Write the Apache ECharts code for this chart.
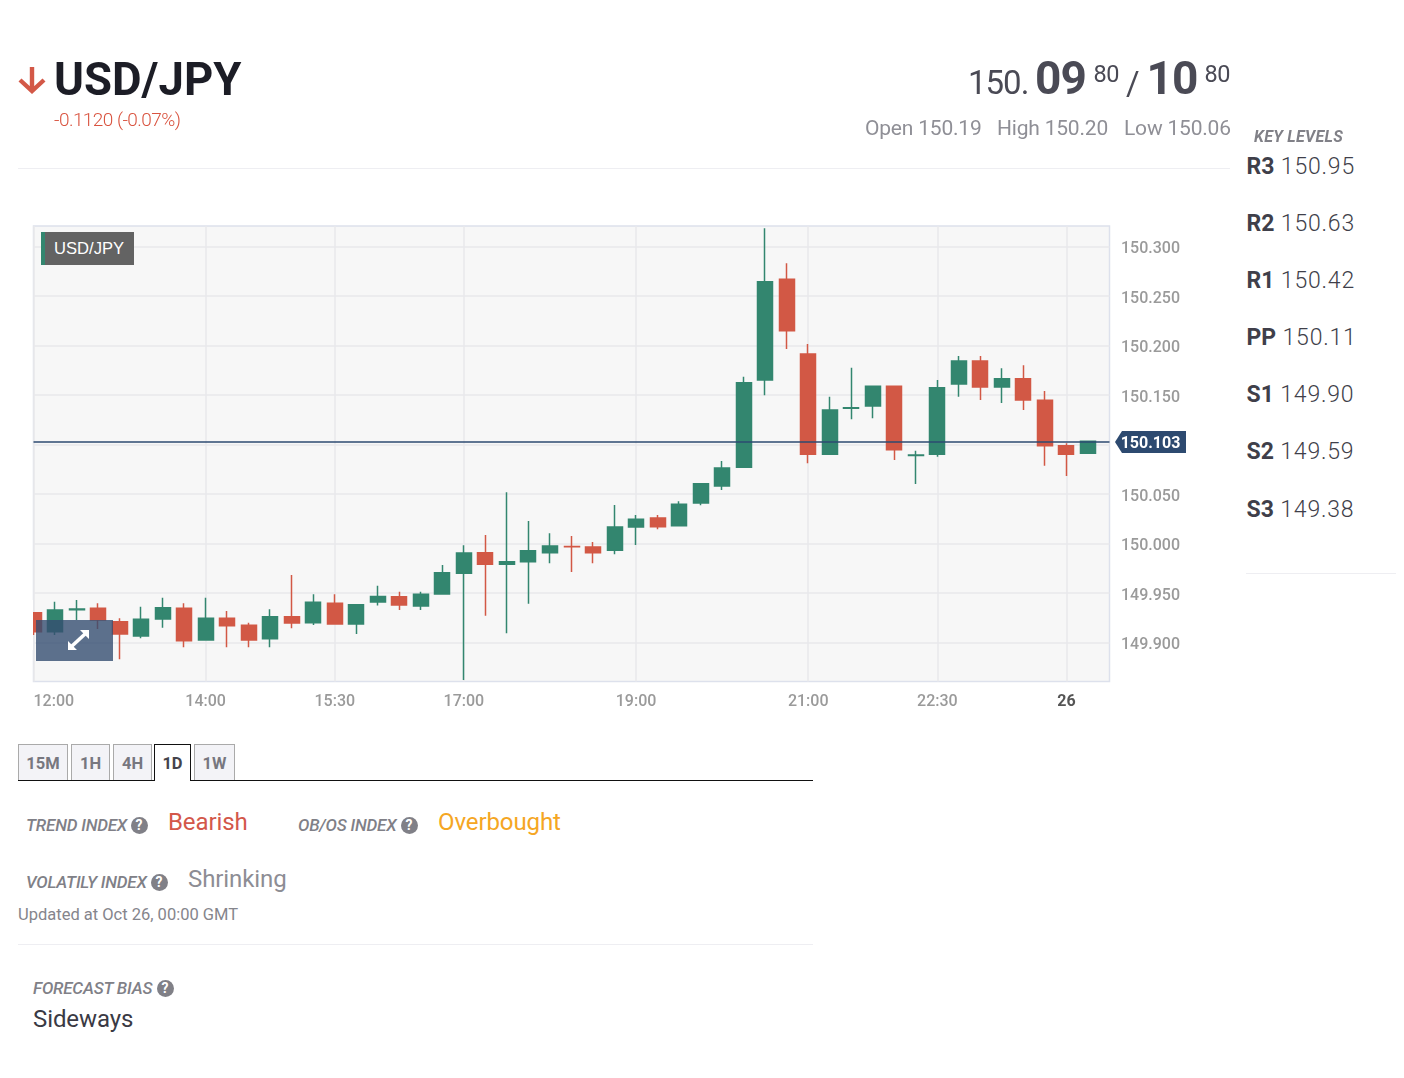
<!DOCTYPE html>
<html lang="en">
<head>
<meta charset="UTF-8">
<title>USD/JPY</title>
<script src="https://cdnjs.cloudflare.com/ajax/libs/echarts/6.0.0/echarts.min.js"></script>
<style>
    html, body { margin: 0; padding: 0; background: #fff; }
    body { position: relative; width: 1404px; height: 1078px; overflow: hidden; font-family: Roboto, sans-serif; }
    #chart { position: absolute; left: 0; top: 0; width: 1200px; height: 725px; }
    .t { position: absolute; white-space: nowrap; line-height: 1; }
    .rule { position: absolute; height: 1px; background: #eeeef2; }
    .big { color: #4a4a55; }
    .ohl { font-size: 21px; font-weight: 400; color: #8f8f96; top: 118px; letter-spacing: -0.2px; }
    .level { font-size: 23px; font-weight: 300; color: #3f3f4a; left: 1246.5px; letter-spacing: 0.8px; }
    .level b { font-weight: 700; letter-spacing: 0; }
    .label { font-size: 17px; font-style: italic; font-weight: 500; color: #808087; letter-spacing: -0.2px; }
    .value { font-size: 24px; font-weight: 400; letter-spacing: -0.1px; }
    .help { position: absolute; width: 17px; height: 17px; border-radius: 50%; background: #808087; color: #fff;
            font: 700 14px/17px Roboto, sans-serif; text-align: center; }
    .tab { position: absolute; top: 744px; height: 35px; box-sizing: content-box; background: #f3f3f7; border: 1px solid #aaa;
           border-bottom: none; font: 700 16.5px/37px Roboto, sans-serif; color: #77777f; text-align: center; }
    .tab.on { background: #fff; border-color: #111; color: #44444c; z-index: 2; height: 36px; }
    .badge { position: absolute; left: 41px; top: 232px; width: 93px; height: 33px; background: #636363; color: #fff;
             font: 400 16.6px/33px "Liberation Sans", Arial, sans-serif; box-sizing: border-box; padding-left: 9px;
             border-left: 4px solid #33866f; }
    .expand { position: absolute; left: 36px; top: 620px; width: 77px; height: 41px; background: rgba(52, 77, 112, 0.8); }
</style>
</head>
<body>
    <div id="chart"></div>
    <!-- first candle is cut by the plot edge -->
    <div style="position:absolute;left:0;top:600px;width:32.8px;height:50px;background:#fff"></div>

    <svg style="position:absolute;left:18px;top:66px" width="28" height="28" viewBox="0 0 28 28">
        <path d="M14 1 V25 M2 14 L14 25 L26 14" fill="none" stroke="#d35847" stroke-width="4.4"/>
    </svg>
    <div class="t" style="left:54px;top:57px;font-size:45.5px;font-weight:700;color:#1c1d26">USD/JPY</div>
    <div class="t" style="left:54px;top:110px;font-size:19px;font-weight:300;color:#d9533f;letter-spacing:-0.55px">-0.1120 (-0.07%)</div>

    <div class="t big" style="left:968px;top:66px;font-size:33px;font-weight:400;letter-spacing:-1px">150.</div>
    <div class="t big" style="left:1035px;top:55px;font-size:46px;font-weight:700;letter-spacing:-1px">09</div>
    <div class="t big" style="left:1093.5px;top:63px;font-size:23.5px;font-weight:400;letter-spacing:-0.4px">80</div>
    <div class="t big" style="left:1126px;top:67px;font-size:33px;font-weight:400">/</div>
    <div class="t big" style="left:1146.5px;top:55px;font-size:46px;font-weight:700;letter-spacing:-1px">10</div>
    <div class="t big" style="left:1204.5px;top:63px;font-size:23.5px;font-weight:400;letter-spacing:-0.4px">80</div>

    <div class="t ohl" style="left:865px">Open 150.19</div>
    <div class="t ohl" style="left:997px">High 150.20</div>
    <div class="t ohl" style="left:1124px">Low 150.06</div>
    <div class="rule" style="left:18px;top:168px;width:1212px"></div>

    <div class="t" style="left:1254px;top:129px;font-size:16px;font-style:italic;font-weight:700;color:#808087;letter-spacing:0.3px">KEY LEVELS</div>
    <div class="t level" style="top:155px"><b>R3</b> 150.95</div>
    <div class="t level" style="top:212px"><b>R2</b> 150.63</div>
    <div class="t level" style="top:269px"><b>R1</b> 150.42</div>
    <div class="t level" style="top:326px"><b>PP</b> 150.11</div>
    <div class="t level" style="top:383px"><b>S1</b> 149.90</div>
    <div class="t level" style="top:440px"><b>S2</b> 149.59</div>
    <div class="t level" style="top:498px"><b>S3</b> 149.38</div>
    <div class="rule" style="left:1246px;top:573px;width:150px"></div>

    <div class="badge">USD/JPY</div>
    <div class="expand">
        <svg style="position:absolute;left:31px;top:9px" width="23" height="22" viewBox="0 0 23 22">
            <path d="M5 17 L18 5" stroke="#fff" stroke-width="3.6"/>
            <path d="M13 1 H22 V10 Z M1 12 V21 H10 Z" fill="#fff"/>
        </svg>
    </div>

    <div class="tab" style="left:18px;width:48px">15M</div>
    <div class="tab" style="left:71px;width:37px">1H</div>
    <div class="tab" style="left:113px;width:37px">4H</div>
    <div class="tab on" style="left:154px;width:35px">1D</div>
    <div class="tab" style="left:194px;width:39px">1W</div>
    <div style="position:absolute;left:18px;top:780px;width:795px;height:1px;background:#111"></div>

    <div class="t label" style="left:26px;top:817px">TREND INDEX</div>
    <div class="help" style="left:130.5px;top:816.5px">?</div>
    <div class="t value" style="left:168px;top:810px;color:#d3574a">Bearish</div>
    <div class="t label" style="left:298px;top:817px">OB/OS INDEX</div>
    <div class="help" style="left:400.5px;top:816.5px">?</div>
    <div class="t value" style="left:438px;top:810px;color:#f5a623">Overbought</div>
    <div class="t label" style="left:26px;top:874px">VOLATILY INDEX</div>
    <div class="help" style="left:150.5px;top:873.5px">?</div>
    <div class="t value" style="left:188px;top:867px;color:#8d8d94">Shrinking</div>
    <div class="t" style="left:18px;top:907px;font-size:16.5px;font-weight:400;color:#85858c">Updated at Oct 26, 00:00 GMT</div>
    <div class="rule" style="left:18px;top:944px;width:795px"></div>
    <div class="t label" style="left:33px;top:980px">FORECAST BIAS</div>
    <div class="help" style="left:156.5px;top:979.5px">?</div>
    <div class="t value" style="left:33px;top:1007px;color:#3a3a44">Sideways</div>

    <script>
        const times = ['12:00','12:15','12:30','12:45','13:00','13:15','13:30','13:45','14:00','14:15','14:30','14:45',
            '15:00','15:15','15:30','15:45','16:00','16:15','16:30','16:45','17:00','17:15','17:30','17:45',
            '18:00','18:15','18:30','18:45','19:00','19:15','19:30','19:45','20:00','20:15','20:30','20:45',
            '21:00','21:15','21:30','21:45','22:00','22:15','22:30','22:45','23:00','23:15','23:30','23:45',
            '26','00:15','00:30'];
        const shownTimes = ['12:00','14:00','15:30','17:00','19:00','21:00','22:30','26'];
        const yTicks = [149.9, 149.95, 150, 150.05, 150.1, 150.15, 150.2, 150.25, 150.3];
        const lastPrice = 150.103;

        const opens = [149.9299,149.9107,149.9330,149.9343,149.9208,149.9064,149.9235,149.9343,149.9023,149.9242,
            149.9172,149.9036,149.9259,149.9198,149.9394,149.9185,149.9407,149.9461,149.9367,149.9488,
            149.9697,149.9905,149.9788,149.9814,149.9905,149.9968,149.9963,149.9929,150.0165,150.0256,
            150.0178,150.0407,150.0579,150.0768,150.1649,150.2667,150.1912,150.0899,150.1364,150.1387,
            150.1586,150.0888,150.0899,150.1609,150.1841,150.1579,150.1663,150.1444,150.0986,150.0909];
        const closes = [149.9107,149.9326,149.9336,149.9225,149.9084,149.9232,149.9349,149.9016,149.9242,149.9168,
            149.9023,149.9259,149.9195,149.9404,149.9185,149.9380,149.9463,149.9377,149.9485,149.9703,
            149.9902,149.9788,149.9814,149.9925,149.9973,149.9964,149.9905,150.0165,150.0242,150.0168,
            150.0394,150.0602,150.0761,150.1622,150.2642,150.2147,150.0899,150.1346,150.1370,150.1586,
            150.0945,150.0892,150.1572,150.1841,150.1579,150.1663,150.1447,150.0986,150.0899,150.1030];
        const lows = [149.9074,149.9074,149.9225,149.9134,149.8828,149.9040,149.9147,149.8949,149.9023,149.8949,
            149.8949,149.8949,149.9141,149.9175,149.9185,149.9084,149.9372,149.9326,149.9326,149.9488,
            149.8619,149.9269,149.9091,149.9390,149.9798,149.9710,149.9798,149.9889,149.9983,150.0141,
            150.0178,150.0384,150.0538,150.0768,150.1495,150.1963,150.0808,150.0899,150.1253,150.1263,
            150.0841,150.0599,150.0875,150.1481,150.1447,150.1417,150.1346,150.0784,150.0680,150.0909];
        const highs = [149.9299,149.9410,149.9427,149.9394,149.9242,149.9360,149.9451,149.9394,149.9451,149.9316,
            149.9198,149.9333,149.9680,149.9485,149.9485,149.9380,149.9572,149.9511,149.9511,149.9781,
            149.9980,150.0084,150.0515,150.0225,150.0101,150.0074,150.0013,150.0387,150.0286,150.0286,
            150.0424,150.0602,150.0831,150.1683,150.3182,150.2828,150.2013,150.1481,150.1774,150.1586,
            150.1586,150.0935,150.1649,150.1892,150.1892,150.1768,150.1798,150.1538,150.1010,150.1030];

        const chart = echarts.init(document.getElementById('chart'));

        const isShown = (idx, name) => shownTimes.includes(name);

        chart.setOption({
            animation: false,
            grid: {
                left: 33.5, top: 226, width: 1076, height: 455.5,
                show: true, backgroundColor: '#f7f7f7', borderColor: '#dde1ec', borderWidth: 1.5
            },
            xAxis: {
                type: 'category',
                data: times,
                boundaryGap: false,
                axisLine: { show: false },
                axisTick: { show: false },
                splitLine: { show: true, interval: isShown, lineStyle: { color: '#e9e9eb', width: 1.5 } },
                axisLabel: {
                    interval: isShown,
                    alignMinLabel: 'left',
                    margin: 12,
                    fontFamily: 'Roboto',
                    fontSize: 16,
                    fontWeight: 500,
                    color: '#9a9a9a',
                    formatter: v => v === '26' ? '{day|26}' : v,
                    rich: { day: { fontFamily: 'Roboto', fontSize: 16, fontWeight: 'bold', color: '#555' } }
                }
            },
            yAxis: {
                type: 'value',
                position: 'right',
                min: 149.8604,
                max: 150.3205,
                axisLine: { show: false },
                axisTick: { show: false, customValues: yTicks },
                splitLine: { show: true, lineStyle: { color: '#e9e9eb', width: 1.5 } },
                axisLabel: {
                    customValues: yTicks,
                    margin: 11.5,
                    verticalAlign: 'top',
                    lineHeight: 6,
                    fontFamily: 'Roboto',
                    fontSize: 16,
                    fontWeight: 500,
                    color: '#9a9a9a',
                    formatter: v => v.toFixed(3)
                }
            },
            series: [{
                type: 'candlestick',
                barWidth: 15.5,
                data: opens.map((o, i) => [o, closes[i], lows[i], highs[i]]),
                itemStyle: {
                    color: '#33866f', borderColor: '#33866f',
                    color0: '#d25845', borderColor0: '#d25845',
                    borderWidth: 1.5
                },
                markLine: {
                    silent: true,
                    symbol: 'none',
                    precision: 3,
                    label: { show: false },
                    lineStyle: { color: '#2d4a70', width: 1.5, type: 'solid' },
                    data: [{ yAxis: lastPrice }]
                },
                markPoint: {
                    silent: true,
                    symbol: 'path://M0 11 L7 0 L71 0 L71 22 L7 22 Z',
                    symbolSize: [71, 22],
                    symbolKeepAspect: false,
                    symbolOffset: [41, 0.7],
                    itemStyle: { color: '#2d4a70' },
                    label: {
                        show: true,
                        position: 'inside',
                        offset: [0, 2],
                        fontFamily: 'Roboto',
                        fontSize: 16,
                        fontWeight: 'bold',
                        color: '#fff',
                        formatter: p => p.value.toFixed(3)
                    },
                    data: [{ coord: ['00:30', lastPrice], value: lastPrice }]
                }
            }]
        });
    </script>
</body>
</html>
